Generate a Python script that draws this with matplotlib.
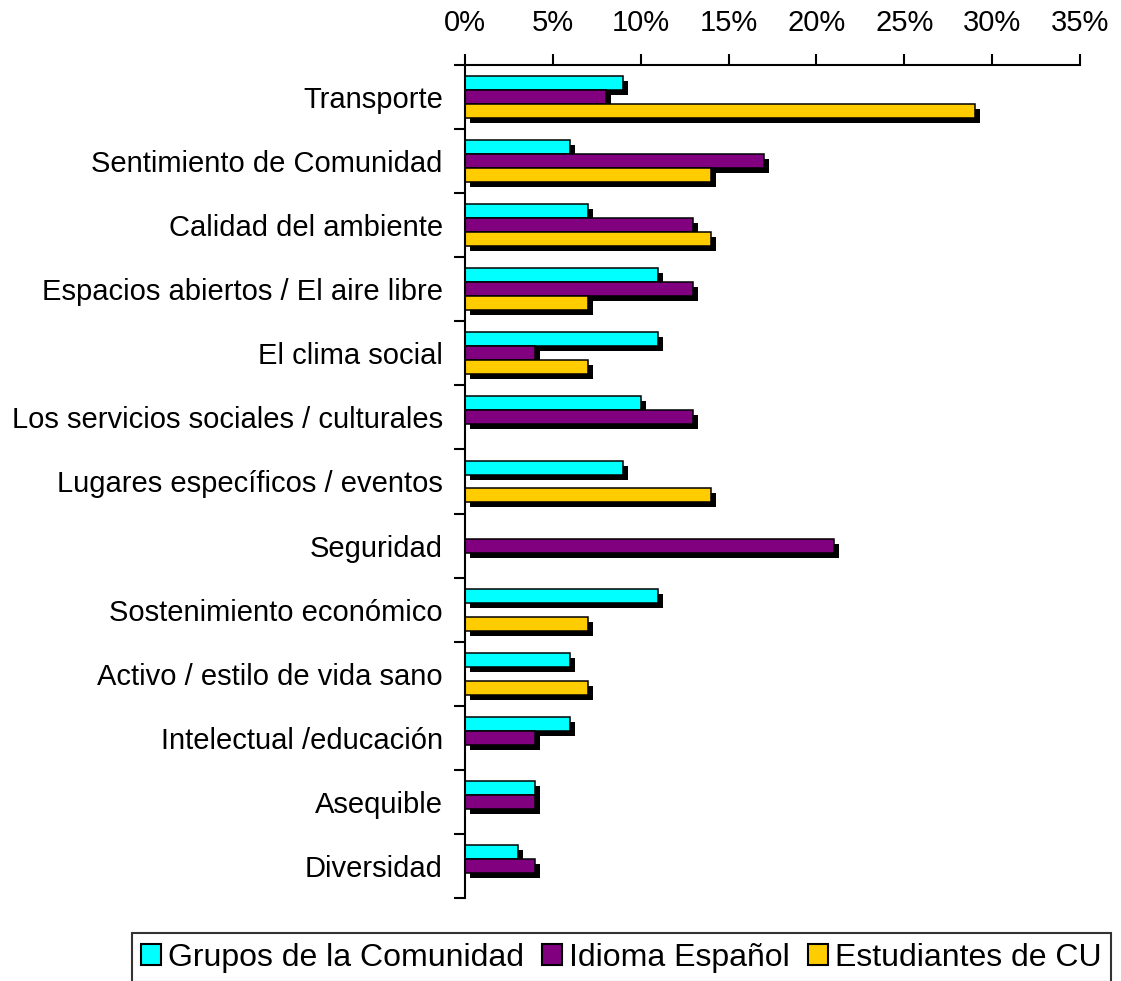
import matplotlib
matplotlib.use("Agg")
import matplotlib.pyplot as plt
import matplotlib.transforms as mtransforms
from matplotlib.patches import Patch
import numpy as np

categories = ["Transporte", "Sentimiento de Comunidad", "Calidad del ambiente",
              "Espacios abiertos / El aire libre", "El clima social",
              "Los servicios sociales / culturales", "Lugares específicos / eventos",
              "Seguridad", "Sostenimiento económico", "Activo / estilo de vida sano",
              "Intelectual /educación", "Asequible", "Diversidad"]
grupos = [9, 6, 7, 11, 11, 10, 9, 0, 11, 6, 6, 4, 3]
idioma = [8, 17, 13, 13, 4, 13, 0, 21, 0, 0, 4, 4, 4]
estudiantes = [29, 14, 14, 7, 7, 0, 14, 0, 7, 7, 0, 0, 0]
series_names = ["Grupos de la Comunidad", "Idioma Español", "Estudiantes de CU"]
colors = ["#00FFFF", "#800080", "#FFCC00"]
xticks = [0, 5, 10, 15, 20, 25, 30, 35]

plt.rcParams['font.family'] = ['Liberation Sans', 'DejaVu Sans']
FS = 21
LFS = 23

fig = plt.figure(figsize=(11.21, 9.81), dpi=100)
ax = fig.add_axes([465/1121, 1-898/981, (1080-465)/1121, (898-65)/981])

n = len(categories)
y = np.arange(n)
h = 0.218
shadow_tr = mtransforms.offset_copy(ax.transData, fig=fig, x=5, y=-5, units='dots')

for k, (vals, col) in enumerate(zip([grupos, idioma, estudiantes], colors)):
    vals = np.array(vals, dtype=float)
    pos = y + (k - 1) * h
    m = vals > 0
    ax.barh(pos[m], vals[m], height=h, color='black', edgecolor='black',
            linewidth=0, transform=shadow_tr, zorder=1)
    ax.barh(pos[m], vals[m], height=h, color=col, edgecolor='black',
            linewidth=1.1, zorder=2)

ax.set_xlim(0, 35)
ax.set_ylim(n - 0.5, -0.5)

ax.xaxis.tick_top()
ax.set_xticks(xticks)
ax.set_xticklabels([f"{t}%" for t in xticks])
ax.tick_params(axis='x', direction='out', length=8, width=1.5, pad=12, labelsize=FS)

ax.set_yticks(y)
ax.set_yticklabels(categories)
ax.set_yticks(np.arange(n + 1) - 0.5, minor=True)
ax.tick_params(axis='y', which='major', length=0, pad=16, labelsize=FS)
ax.tick_params(axis='y', which='minor', direction='out', length=8, width=1.5)

for s in ['right', 'bottom']:
    ax.spines[s].set_visible(False)
for s in ['left', 'top']:
    ax.spines[s].set_linewidth(1.5)

handles = [Patch(facecolor=c, edgecolor='black', linewidth=1.5) for c in colors]
leg = fig.legend(handles, series_names, loc='upper center', ncol=3,
                 bbox_to_anchor=(621.5/1121, 1-933/981), fontsize=LFS,
                 frameon=True, fancybox=False, edgecolor='black',
                 handlelength=0.63, handleheight=0.63, handletextpad=0.22,
                 columnspacing=0.56, borderpad=0.3, borderaxespad=0)
leg.get_frame().set_linewidth(1.5)

fig.savefig("out.png", dpi=100)
